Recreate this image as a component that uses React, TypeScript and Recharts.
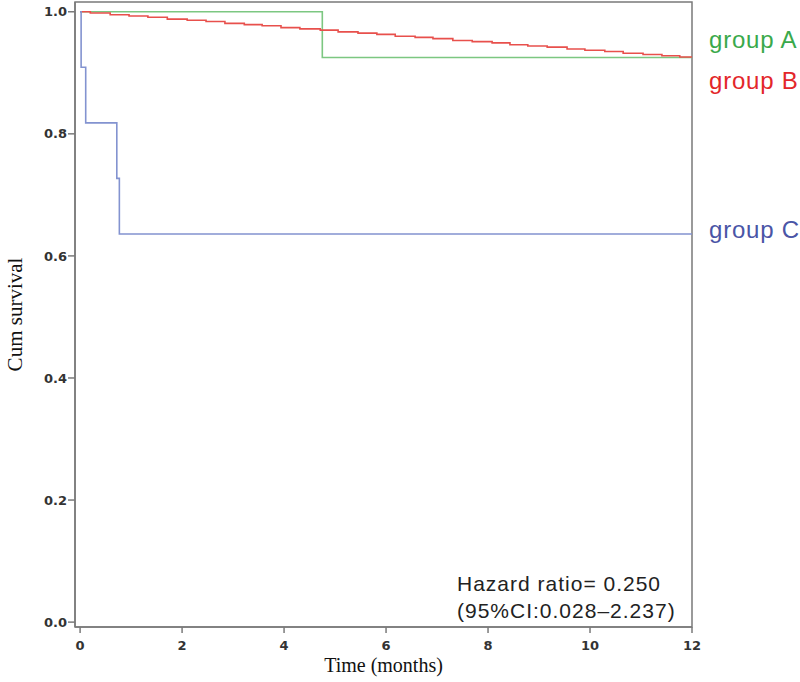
import { LineChart, Line, XAxis, YAxis, ReferenceArea, Label } from "recharts";

// group A (green)
const timesA = [0, 4.75, 12];
const survA = [1.0, 0.925, 0.925];

// group B (red)
const timesB = [
	0, 0.2, 0.59, 0.96, 1.33, 1.71, 2.1, 2.47, 2.84, 3.22, 3.57, 3.94, 4.31,
	4.71, 5.06, 5.45, 5.82, 6.18, 6.57, 6.92, 7.31, 7.69, 8.08, 8.43, 8.78,
	9.16, 9.55, 9.9, 10.29, 10.65, 11.04, 11.41, 11.76, 12,
];
const survB = [
	1.0, 0.998, 0.995, 0.993, 0.991, 0.988, 0.986, 0.984, 0.981, 0.979, 0.977,
	0.974, 0.972, 0.97, 0.967, 0.965, 0.963, 0.96, 0.958, 0.956, 0.953, 0.951,
	0.949, 0.946, 0.944, 0.942, 0.939, 0.937, 0.935, 0.932, 0.93, 0.928, 0.926,
	0.926,
];

// group C (blue)
const timesC = [0, 0.02, 0.11, 0.72, 0.77, 12];
const survC = [1.0, 0.909, 0.818, 0.727, 0.636, 0.636];

const xTicks = [0, 2, 4, 6, 8, 10, 12];
const yTicks = [0, 0.2, 0.4, 0.6, 0.8, 1.0];

const groups = [
	{ name: "group A", times: timesA, surv: survA, line: "#7cc781", text: "#3aa94b", top: 26 },
	{ name: "group B", times: timesB, surv: survB, line: "#e8504c", text: "#e3262a", top: 67 },
	{ name: "group C", times: timesC, surv: survC, line: "#8393d0", text: "#4a55a6", top: 216 },
];

const toSeries = (times: number[], surv: number[]) =>
	times.map((t, i) => ({ t, s: surv[i] }));

const tickStyle = {
	fontFamily: "'DejaVu Sans', sans-serif",
	fontSize: 13,
	fontWeight: 700,
	fill: "#333",
};

const labelFont = { fontFamily: "'Liberation Serif', serif", fontSize: 20, fill: "#111" };

export default function App() {
	return (
		<div style={{ position: "absolute", left: 0, top: 0, width: 800, height: 682, background: "#fff" }}>
			<LineChart
				width={800}
				height={682}
				margin={{ top: 2, right: 108, left: 0, bottom: 0 }}
			>
				<XAxis
					type="number"
					dataKey="t"
					domain={[-0.1, 12]}
					ticks={xTicks}
					tickFormatter={(v) => String(v)}
					height={55}
					stroke="#7a7a7a"
					strokeWidth={1.5}
					tickSize={6}
					tickMargin={8}
					tick={tickStyle}
					allowDataOverflow
				>
					<Label value="Time (months)" position="insideBottom" offset={10} style={labelFont} />
				</XAxis>
				<YAxis
					type="number"
					domain={[-0.008, 1.016]}
					ticks={yTicks}
					tickFormatter={(v) => Number(v).toFixed(1)}
					width={75}
					stroke="#7a7a7a"
					strokeWidth={1.5}
					tickSize={7}
					tickMargin={1}
					tick={tickStyle}
					allowDataOverflow
				>
					<Label
						value="Cum survival"
						angle={-90}
						position="insideLeft"
						offset={15}
						style={{ ...labelFont, fontSize: 21, textAnchor: "middle" }}
					/>
				</YAxis>
				<ReferenceArea
					x1={-0.1}
					x2={12}
					y1={-0.008}
					y2={1.016}
					fill="none"
					fillOpacity={0}
					stroke="#7a7a7a"
					strokeWidth={1.5}
				/>
				{groups.map((g) => (
					<Line
						key={g.name}
						data={toSeries(g.times, g.surv)}
						dataKey="s"
						type="stepAfter"
						stroke={g.line}
						strokeWidth={1.6}
						dot={false}
						activeDot={false}
						isAnimationActive={false}
					/>
				))}
			</LineChart>

			{groups.map((g) => (
				<div
					key={g.name}
					style={{
						position: "absolute",
						left: 709,
						top: g.top,
						fontFamily: "'Liberation Sans', Arial, sans-serif",
						fontSize: 24,
						letterSpacing: 0.8,
						lineHeight: "28px",
						color: g.text,
						whiteSpace: "nowrap",
					}}
				>
					{g.name}
				</div>
			))}

			<div
				style={{
					position: "absolute",
					left: 457,
					top: 570,
					fontFamily: "'Liberation Sans', Arial, sans-serif",
					fontSize: 21,
					letterSpacing: 1,
					lineHeight: "27px",
					color: "#222",
					whiteSpace: "nowrap",
				}}
			>
				<div>Hazard ratio= 0.250</div>
				<div>(95%CI:0.028–2.237)</div>
			</div>
		</div>
	);
}
